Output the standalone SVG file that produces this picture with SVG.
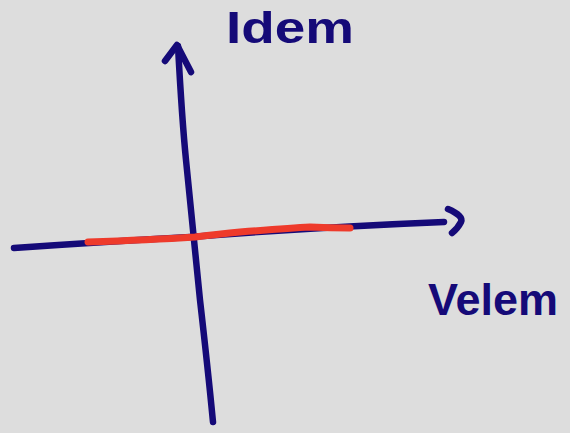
<svg xmlns="http://www.w3.org/2000/svg" width="570" height="433" viewBox="0 0 570 433">
<style>
.ax{fill:none;stroke:#150a78;stroke-width:6.5;stroke-linecap:round;stroke-linejoin:round}
.cur{fill:none;stroke:#ee3a2b;stroke-width:7;stroke-linecap:round;stroke-linejoin:round}
.lbl{fill:#150a78;font-family:"Liberation Sans",Arial,sans-serif;font-weight:bold}
</style>
<rect width="570" height="433" fill="#dddddd"/>
<g id="connectors">
<path class="ax" d="M178,46 Q182,120 186,160 Q194,240 200,300 Q208,370 213,422"/>
<path class="ax" d="M165,61 L177,45 L191,72"/>
<path class="ax" d="M14,248 Q100,242 190,237 Q320,227 444,222"/>
<path class="ax" d="M448,209 Q464,216 461,222 Q458,228 452,233"/>
<path class="cur" d="M88,242 Q150,240 195,237 Q220,234 240,232 Q290,228 310,227 Q330,228 350,228"/>
</g>
<g id="idem"><text class="lbl" x="226" y="43" font-size="44" textLength="128" lengthAdjust="spacingAndGlyphs">Idem</text></g>
<g id="velem"><text class="lbl" x="428" y="315" font-size="45">Velem</text></g>
</svg>
